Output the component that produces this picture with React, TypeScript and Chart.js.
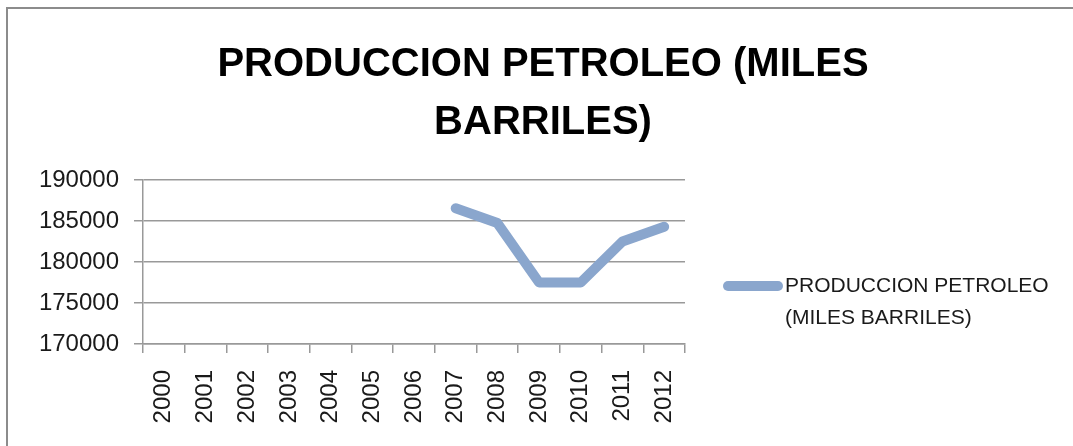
import React, { useEffect, useRef } from "react";
import { Chart, registerables } from "chart.js";

Chart.register(...registerables);

const years = ["2000", "2001", "2002", "2003", "2004", "2005", "2006", "2007", "2008", "2009", "2010", "2011", "2012"];
const produccion: (number | null)[] = [null, null, null, null, null, null, null, 186550, 184750, 177500, 177500, 182500, 184300];
const titleLines = ["PRODUCCION PETROLEO (MILES", "BARRILES)"];
const legendLines = ["PRODUCCION PETROLEO", "(MILES BARRILES)"];
const yMin = 170000;
const yMax = 190000;
const yStep = 5000;

const LINE_COLOR = "#8AA6CD";
const FONT = "'Liberation Sans', Arial, sans-serif";

const framePlugin = {
  id: "frame",
  beforeDraw(chart: any) {
    const ctx = chart.ctx;
    ctx.save();
    ctx.fillStyle = "#ffffff";
    ctx.fillRect(0, 0, chart.width, chart.height);
    ctx.fillStyle = "#8c8c8c";
    ctx.fillRect(6, 7, 2, chart.height);
    ctx.fillRect(6, 7, chart.width, 2);
    ctx.restore();
  },
};

const legendPlugin = {
  id: "sideLegend",
  afterDraw(chart: any) {
    const ctx = chart.ctx;
    const area = chart.chartArea;
    const x0 = area.right + 38;
    const y0 = area.top + 106;
    ctx.save();
    ctx.strokeStyle = LINE_COLOR;
    ctx.lineWidth = 10;
    ctx.lineCap = "round";
    ctx.beginPath();
    ctx.moveTo(x0 + 5, y0);
    ctx.lineTo(x0 + 55, y0);
    ctx.stroke();
    ctx.fillStyle = "#1a1a1a";
    ctx.font = `21px ${FONT}`;
    ctx.textBaseline = "middle";
    ctx.textAlign = "left";
    legendLines.forEach((t, i) => ctx.fillText(t, x0 + 62, y0 + i * 32));
    ctx.restore();
  },
};

export default function App() {
  const ref = useRef<HTMLCanvasElement>(null);
  useEffect(() => {
    if (!ref.current) return;
    const chart = new Chart(ref.current, {
      type: "line",
      data: {
        labels: years,
        datasets: [
          {
            label: legendLines.join(" "),
            data: produccion,
            borderColor: LINE_COLOR,
            backgroundColor: LINE_COLOR,
            borderWidth: 10,
            borderCapStyle: "round",
            borderJoinStyle: "round",
            pointRadius: 0,
            pointHoverRadius: 0,
            tension: 0,
            spanGaps: false,
          },
        ],
      },
      options: {
        responsive: false,
        animation: false,
        layout: { padding: { top: 6, left: 13, right: 0, bottom: 0 } },
        plugins: {
          legend: { display: false },
          tooltip: { enabled: false },
          title: {
            display: true,
            text: titleLines,
            color: "#000000",
            font: { family: FONT, size: 40, weight: "bold", lineHeight: 58 / 40 },
            padding: { top: 30, bottom: 28 },
          },
        },
        scales: {
          x: {
            type: "category",
            offset: true,
            grid: {
              display: true,
              drawOnChartArea: false,
              drawTicks: true,
              tickLength: 9,
              offset: true,
              color: "#999999",
              lineWidth: 1.5,
            },
            border: { display: true, color: "#999999", width: 1.5 },
            ticks: {
              color: "#1a1a1a",
              font: { family: FONT, size: 24 },
              minRotation: 90,
              maxRotation: 90,
              padding: 17,
              autoSkip: false,
            },
            afterFit(scale: any) {
              scale.height = 102;
            },
          },
          y: {
            min: yMin,
            max: yMax,
            grid: { color: "#999999", lineWidth: 1.5, tickLength: 9 },
            border: { display: true, color: "#999999", width: 1.5 },
            ticks: {
              stepSize: yStep,
              color: "#1a1a1a",
              font: { family: FONT, size: 24 },
              padding: 15,
              callback: (v: any) => String(v),
            },
            afterFit(scale: any) {
              scale.width = 130;
            },
          },
          yR: {
            position: "right",
            display: true,
            grid: { display: false, drawOnChartArea: false },
            border: { display: false },
            ticks: { display: false },
            afterFit(scale: any) {
              scale.width = 388;
            },
          },
        },
      },
      plugins: [framePlugin, legendPlugin],
    });
    return () => chart.destroy();
  }, []);
  return (
    <div style={{ position: "absolute", left: 0, top: 0, width: 1073, height: 446 }}>
      <canvas ref={ref} width={1073} height={446} />
    </div>
  );
}
